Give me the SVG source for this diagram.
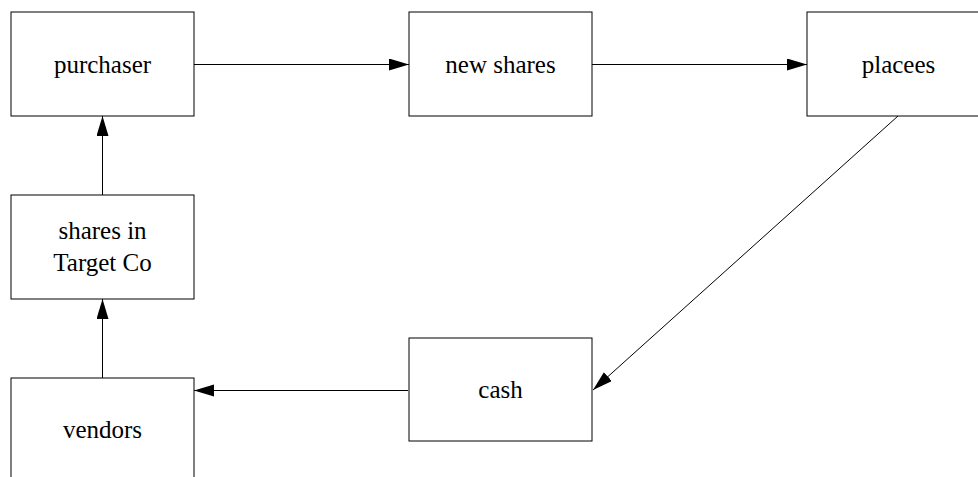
<svg xmlns="http://www.w3.org/2000/svg" width="978" height="477" viewBox="0 0 978 477">
<style>
.box{fill:#fff;stroke:#000;stroke-width:1}
.lbl{font-family:"Liberation Serif","Times New Roman",serif;font-size:25px;fill:#000;text-anchor:middle}
.edge{stroke:#000;stroke-width:1;fill:none;marker-end:url(#ah)}
</style>
<defs>
<marker id="ah" markerUnits="userSpaceOnUse" markerWidth="22" markerHeight="14" refX="20" refY="6" orient="auto">
<path d="M0,0 L20,6 L0,12 Z" fill="#000"/>
</marker>
</defs>
<rect width="978" height="477" fill="#fff"/>
<g id="connectors">
<line class="edge" x1="194" y1="64.5" x2="409" y2="64.5"/>
<line class="edge" x1="592" y1="64.5" x2="807" y2="64.5"/>
<line class="edge" x1="898" y1="116" x2="593" y2="390"/>
<line class="edge" x1="408" y1="390.5" x2="194" y2="390.5"/>
<line class="edge" x1="102.5" y1="378" x2="102.5" y2="299"/>
<line class="edge" x1="102.5" y1="195" x2="102.5" y2="116"/>
</g>
<g id="purchaser">
<rect class="box" x="11" y="12" width="183" height="104"/>
<text class="lbl" x="102.5" y="73">purchaser</text>
</g>
<g id="new-shares">
<rect class="box" x="409" y="12" width="183" height="104"/>
<text class="lbl" x="500.5" y="73">new shares</text>
</g>
<g id="placees">
<rect class="box" x="807" y="12" width="183" height="104"/>
<text class="lbl" x="898.5" y="73">placees</text>
</g>
<g id="shares-in-target-co">
<rect class="box" x="11" y="195" width="183" height="104"/>
<text class="lbl" x="102.5" y="239">shares in</text>
<text class="lbl" x="102.5" y="271">Target Co</text>
</g>
<g id="cash">
<rect class="box" x="409" y="338" width="183" height="103"/>
<text class="lbl" x="500.5" y="398">cash</text>
</g>
<g id="vendors">
<rect class="box" x="11" y="378" width="183" height="104"/>
<text class="lbl" x="102.5" y="438">vendors</text>
</g>
</svg>
